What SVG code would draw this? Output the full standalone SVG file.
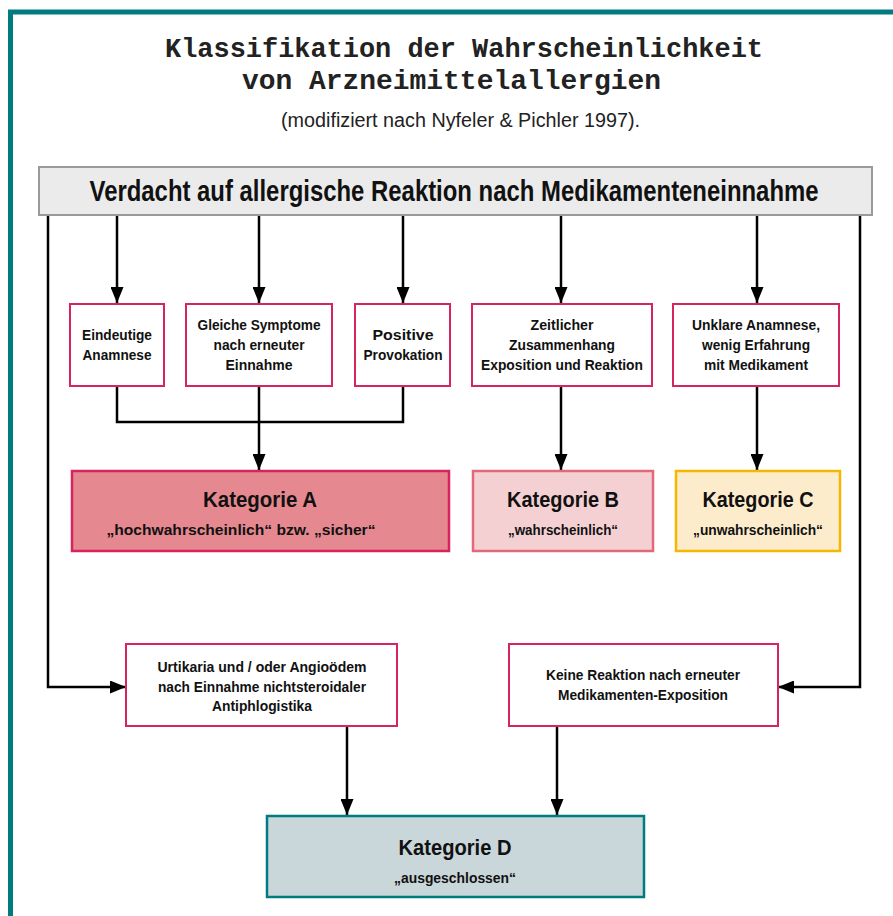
<svg xmlns="http://www.w3.org/2000/svg" width="893" height="916" viewBox="0 0 893 916">
<defs>
<marker id="ah" viewBox="0 0 16 13" refX="16" refY="6.5" markerWidth="16" markerHeight="13" markerUnits="userSpaceOnUse" orient="auto">
<path d="M0,0 L16,6.5 L0,13 z" fill="#000"/>
</marker>
<style>
.t{font-family:"Liberation Sans",Arial,sans-serif;font-weight:bold;fill:#111;text-anchor:middle}
.s{font-size:14.5px}
.k{font-size:22px}
.q{font-size:14px}
.box{fill:#fff;stroke:#d6245e;stroke-width:2}
.c{fill:none;stroke:#000;stroke-width:2.5}
.ttl{font-family:"Liberation Mono","Courier New",monospace;font-weight:bold;font-size:27px;fill:#222}
</style>
</defs>
<rect x="0" y="0" width="893" height="916" fill="#fff"/>
<rect x="10.5" y="12" width="900" height="920" fill="none" stroke="#007b7f" stroke-width="5"/>

<g id="title">
<text class="ttl" x="165" y="57" textLength="598" lengthAdjust="spacingAndGlyphs">Klassifikation der Wahrscheinlichkeit</text>
<text class="ttl" x="242" y="89" textLength="419" lengthAdjust="spacingAndGlyphs">von Arzneimittelallergien</text>
<text x="281" y="127" font-family="Liberation Sans,Arial,sans-serif" font-size="20" fill="#222" textLength="359" lengthAdjust="spacingAndGlyphs">(modifiziert nach Nyfeler &amp; Pichler 1997).</text>
</g>

<g id="connectors">
<path class="c" d="M117,215 V303" marker-end="url(#ah)"/>
<path class="c" d="M259,215 V303" marker-end="url(#ah)"/>
<path class="c" d="M403,215 V303" marker-end="url(#ah)"/>
<path class="c" d="M561,215 V303" marker-end="url(#ah)"/>
<path class="c" d="M757,215 V303" marker-end="url(#ah)"/>
<path class="c" d="M117,386 V422 H403 V386"/>
<path class="c" d="M259,386 V470" marker-end="url(#ah)"/>
<path class="c" d="M561,386 V470" marker-end="url(#ah)"/>
<path class="c" d="M757,386 V470" marker-end="url(#ah)"/>
<path class="c" d="M48,215 V687 H126" marker-end="url(#ah)"/>
<path class="c" d="M860,215 V687 H778" marker-end="url(#ah)"/>
<path class="c" d="M347,726 V815" marker-end="url(#ah)"/>
<path class="c" d="M557,726 V815" marker-end="url(#ah)"/>
</g>

<g id="header">
<rect x="39" y="167" width="833" height="48" fill="#ebebeb" stroke="#9a9a9a" stroke-width="2"/>
<text class="t" transform="translate(454,201) scale(1,1.2)" x="0" y="0" font-size="25" textLength="729" lengthAdjust="spacingAndGlyphs">Verdacht auf allergische Reaktion nach Medikamenteneinnahme</text>
</g>

<g id="eindeutige">
<rect class="box" x="70" y="304" width="94" height="82"/>
<text class="t s" x="117" y="340" textLength="70" lengthAdjust="spacingAndGlyphs">Eindeutige</text>
<text class="t s" x="117" y="360" textLength="69" lengthAdjust="spacingAndGlyphs">Anamnese</text>
</g>

<g id="gleiche">
<rect class="box" x="186" y="304" width="146" height="82"/>
<text class="t s" x="259" y="330" textLength="123" lengthAdjust="spacingAndGlyphs">Gleiche Symptome</text>
<text class="t s" x="259" y="350" textLength="91" lengthAdjust="spacingAndGlyphs">nach erneuter</text>
<text class="t s" x="259" y="370" textLength="67" lengthAdjust="spacingAndGlyphs">Einnahme</text>
</g>

<g id="positive">
<rect class="box" x="355" y="304" width="95" height="82"/>
<text class="t s" x="403" y="340" textLength="61" lengthAdjust="spacingAndGlyphs">Positive</text>
<text class="t s" x="403" y="360" textLength="79" lengthAdjust="spacingAndGlyphs">Provokation</text>
</g>

<g id="zeitlicher">
<rect class="box" x="472" y="304" width="180" height="82"/>
<text class="t s" x="562" y="330" textLength="63" lengthAdjust="spacingAndGlyphs">Zeitlicher</text>
<text class="t s" x="562" y="350" textLength="106" lengthAdjust="spacingAndGlyphs">Zusammenhang</text>
<text class="t s" x="562" y="370" textLength="162" lengthAdjust="spacingAndGlyphs">Exposition und Reaktion</text>
</g>

<g id="unklare">
<rect class="box" x="673" y="304" width="166" height="82"/>
<text class="t s" x="756" y="330" textLength="128" lengthAdjust="spacingAndGlyphs">Unklare Anamnese,</text>
<text class="t s" x="756" y="350" textLength="108" lengthAdjust="spacingAndGlyphs">wenig Erfahrung</text>
<text class="t s" x="756" y="370" textLength="104" lengthAdjust="spacingAndGlyphs">mit Medikament</text>
</g>

<g id="katA">
<rect x="72" y="471" width="377" height="80" fill="#e5888f" stroke="#d6245e" stroke-width="2.5"/>
<text class="t k" x="260" y="507" textLength="114" lengthAdjust="spacingAndGlyphs">Kategorie A</text>
<text class="t q" x="241" y="535" textLength="269" lengthAdjust="spacingAndGlyphs">„hochwahrscheinlich“ bzw. „sicher“</text>
</g>

<g id="katB">
<rect x="473" y="471" width="180" height="80" fill="#f5d0d3" stroke="#e06a7a" stroke-width="2.5"/>
<text class="t k" x="563" y="507" textLength="112" lengthAdjust="spacingAndGlyphs">Kategorie B</text>
<text class="t q" x="563" y="535" textLength="110" lengthAdjust="spacingAndGlyphs">„wahrscheinlich“</text>
</g>

<g id="katC">
<rect x="676" y="471" width="164" height="80" fill="#fdeccc" stroke="#f5b800" stroke-width="2.5"/>
<text class="t k" x="758" y="507" textLength="111" lengthAdjust="spacingAndGlyphs">Kategorie C</text>
<text class="t q" x="758" y="535" textLength="130" lengthAdjust="spacingAndGlyphs">„unwahrscheinlich“</text>
</g>

<g id="urtikaria">
<rect class="box" x="126" y="644" width="271" height="82"/>
<text class="t s" x="262" y="672" textLength="209" lengthAdjust="spacingAndGlyphs">Urtikaria und / oder Angioödem</text>
<text class="t s" x="262" y="692" textLength="208" lengthAdjust="spacingAndGlyphs">nach Einnahme nichtsteroidaler</text>
<text class="t s" x="262" y="711" textLength="100" lengthAdjust="spacingAndGlyphs">Antiphlogistika</text>
</g>

<g id="keine">
<rect class="box" x="509" y="644" width="269" height="82"/>
<text class="t s" x="643" y="680" textLength="194" lengthAdjust="spacingAndGlyphs">Keine Reaktion nach erneuter</text>
<text class="t s" x="643" y="700" textLength="170" lengthAdjust="spacingAndGlyphs">Medikamenten-Exposition</text>
</g>

<g id="katD">
<rect x="267" y="816" width="377" height="81" fill="#c9d6da" stroke="#007b7f" stroke-width="2.5"/>
<text class="t k" x="455" y="855" textLength="113" lengthAdjust="spacingAndGlyphs">Kategorie D</text>
<text class="t q" x="455" y="883" textLength="122" lengthAdjust="spacingAndGlyphs">„ausgeschlossen“</text>
</g>
</svg>
